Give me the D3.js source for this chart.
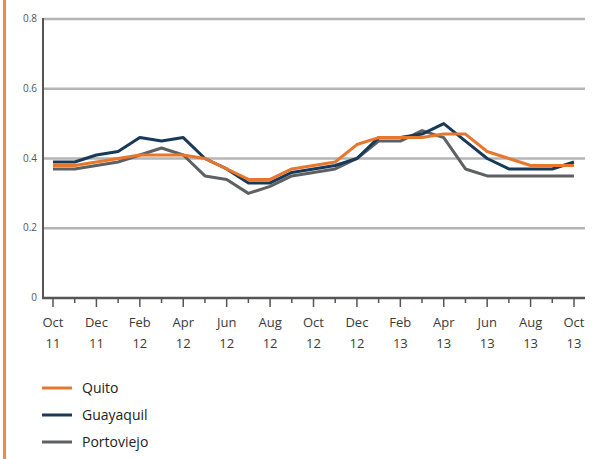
<!DOCTYPE html>
<meta charset="utf-8">
<style>
    body { margin: 0; background: #fff; }
    text { font-family: "Open Sans", "Noto Sans", sans-serif; fill: #3a3a3a; }
</style>
<body>
<svg width="600" height="459"></svg>
</body>
<script src="https://d3js.org/d3.v7.min.js"></script>
<script>
    // monthly points, Oct 11 .. Oct 13
    const months = ["Oct 11", "Nov 11", "Dec 11", "Jan 12", "Feb 12", "Mar 12", "Apr 12", "May 12", "Jun 12",
        "Jul 12", "Aug 12", "Sep 12", "Oct 12", "Nov 12", "Dec 12", "Jan 13", "Feb 13", "Mar 13", "Apr 13",
        "May 13", "Jun 13", "Jul 13", "Aug 13", "Sep 13", "Oct 13"];
    const quito = [0.38, 0.38, 0.39, 0.40, 0.41, 0.41, 0.41, 0.40, 0.37, 0.34, 0.34, 0.37, 0.38, 0.39, 0.44,
        0.46, 0.46, 0.46, 0.47, 0.47, 0.42, 0.40, 0.38, 0.38, 0.38];
    const guayaquil = [0.39, 0.39, 0.41, 0.42, 0.46, 0.45, 0.46, 0.40, 0.37, 0.33, 0.33, 0.36, 0.37, 0.38, 0.40,
        0.46, 0.46, 0.47, 0.50, 0.45, 0.40, 0.37, 0.37, 0.37, 0.39];
    const portoviejo = [0.37, 0.37, 0.38, 0.39, 0.41, 0.43, 0.41, 0.35, 0.34, 0.30, 0.32, 0.35, 0.36, 0.37, 0.40,
        0.45, 0.45, 0.48, 0.46, 0.37, 0.35, 0.35, 0.35, 0.35, 0.35];
    const yTicks = [0, 0.2, 0.4, 0.6, 0.8];
    const seriesNames = ["Quito", "Guayaquil", "Portoviejo"];
    const seriesColors = ["#e8762d", "#183a58", "#5e6063"];

    const svg = d3.select("svg");

    // orange bar on the left edge
    svg.append("rect").attr("x", 3).attr("y", 0).attr("width", 3).attr("height", 459).attr("fill", "#ef8a48");

    const x = d3.scaleLinear().domain([0, months.length - 1]).range([53, 574]);
    const y = d3.scaleLinear().domain([0, 0.8]).range([298, 19]);

    // gridlines
    svg.append("g")
        .selectAll("line")
        .data(yTicks.filter(d => d > 0))
        .enter().append("line")
        .attr("x1", 43).attr("x2", 585)
        .attr("y1", d => y(d)).attr("y2", d => y(d))
        .attr("stroke", "#b5b5b5").attr("stroke-width", 2.5);

    // y labels
    svg.append("g")
        .selectAll("text")
        .data(yTicks)
        .enter().append("text")
        .attr("x", 37).attr("y", d => y(d) + 3)
        .attr("text-anchor", "end")
        .attr("font-size", 10)
        .style("fill", "#555")
        .text(d => d === 0 ? "0" : d.toFixed(1));

    // series
    const line = d3.line().x((d, i) => x(i)).y(d => y(d));
    [quito, guayaquil, portoviejo].slice().reverse().forEach((vals, k) => {
        const idx = 2 - k;
        svg.append("path")
            .datum(vals)
            .attr("d", line)
            .attr("fill", "none")
            .attr("stroke", seriesColors[idx])
            .attr("stroke-width", 3)
            .attr("stroke-linejoin", "round");
    });

    // axes
    svg.append("line").attr("x1", 43).attr("x2", 43).attr("y1", 18).attr("y2", 299)
        .attr("stroke", "#555").attr("stroke-width", 2);
    svg.append("line").attr("x1", 42).attr("x2", 585).attr("y1", 298).attr("y2", 298)
        .attr("stroke", "#555").attr("stroke-width", 2.5);

    // x ticks
    svg.append("g")
        .selectAll("line")
        .data(months)
        .enter().append("line")
        .attr("x1", (d, i) => x(i)).attr("x2", (d, i) => x(i))
        .attr("y1", 298).attr("y2", (d, i) => i % 2 === 0 ? 307 : 303)
        .attr("stroke", "#555").attr("stroke-width", 1.5);

    const labels = svg.append("g")
        .selectAll("text")
        .data(months.map((m, i) => ({m, i})).filter(d => d.i % 2 === 0))
        .enter().append("text")
        .attr("text-anchor", "middle")
        .attr("font-size", 13);
    labels.append("tspan").attr("x", d => x(d.i)).attr("y", 327).text(d => d.m.split(" ")[0]);
    labels.append("tspan").attr("x", d => x(d.i)).attr("y", 348).text(d => d.m.split(" ")[1]);

    // legend
    const legend = svg.append("g")
        .selectAll("g")
        .data(seriesNames)
        .enter().append("g")
        .attr("transform", (d, i) => "translate(42," + (388 + i * 27) + ")");
    legend.append("line").attr("x1", 0).attr("x2", 30).attr("y1", 0).attr("y2", 0)
        .attr("stroke", (d, i) => seriesColors[i]).attr("stroke-width", 3);
    legend.append("text").attr("x", 40).attr("y", 5).attr("font-size", 14)
        .style("fill", "#222").text(d => d);
</script>
